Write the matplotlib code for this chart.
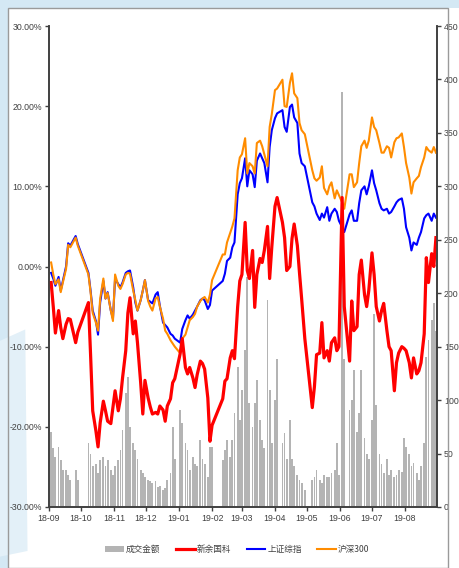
import numpy as np
import pandas as pd
import matplotlib
matplotlib.use("Agg")
from matplotlib import pyplot as plt
import matplotlib.dates as mdates
from matplotlib.patches import Rectangle, Polygon, Patch
from matplotlib.lines import Line2D
from matplotlib.ticker import FuncFormatter, MultipleLocator

# 交易日（每周一、三、五取样，去掉节假日）
holidays = ["2018-09-24", "2018-10-01", "2018-10-03", "2018-10-05", "2018-12-31",
            "2019-02-04", "2019-02-06", "2019-02-08", "2019-04-05", "2019-05-01",
            "2019-05-03", "2019-06-07"]

# 上证综指 累计涨跌幅 %
sse = [
    -0.8, -1.5, -2.4, -1.3, -3.0, -1.8, 0.0, 2.9, 2.6, 3.8, 2.8,                 # 9
    -0.8, -3.0, -5.5, -6.8, -8.5, -4.5, -1.8, -4.0, -3.2, -5.5, -6.5,            # 10
    -1.5, -2.2, -2.6, -2.0, -0.8, -0.6, -0.5, -2.6, -4.5, -5.5, -4.2, -3.0, -1.7,  # 11
    -4.2, -4.4, -4.6, -3.5, -3.2, -4.9, -7.0, -7.3, -7.6, -8.4, -8.6, -9.0,      # 12
    -9.5, -7.8, -6.7, -6.1, -6.5, -6.0, -5.5, -5.0, -4.2, -4.0, -4.2, -5.3, -4.8,  # 1
    -3.0, -1.8, -0.9, 0.7, 1.1, 2.4, 3.0, 9.0, 10.4,                             # 2
    11.0, 13.5, 10.0, 12.0, 11.5, 9.9, 13.2, 14.1, 13.5, 12.9, 10.5, 14.9, 17.0,  # 3
    18.5, 19.1, 19.5, 17.4, 16.8, 19.9, 20.2, 18.6, 17.9, 14.1, 12.9, 12.5,      # 4
    8.0, 7.5, 6.6, 5.8, 6.6, 6.1, 7.4, 5.7, 6.6, 7.2, 6.8, 5.7,                  # 5
    4.9, 4.3, 6.5, 7.0, 5.7, 5.7, 7.9, 9.5, 10.0, 9.0, 10.0,                     # 6
    12.0, 10.4, 9.5, 7.9, 7.2, 7.0, 7.2, 6.6, 6.8, 7.5, 8.0, 8.3, 8.5, 7.2,      # 7
    4.9, 3.6, 2.0, 3.0, 2.7, 3.6, 4.3, 6.0, 6.4, 6.6, 5.7, 6.6, 6.1,             # 8
]

# 沪深300 累计涨跌幅 %
hs300 = [
    0.5, -1.0, -2.2, -1.6, -3.2, -2.0, -0.3, 2.7, 2.4, 3.6, 2.6,
    -1.0, -3.2, -5.8, -7.0, -8.0, -4.0, -1.5, -4.0, -3.3, -5.5, -6.8,
    -1.0, -2.4, -2.8, -2.2, -1.0, -0.8, -0.9, -3.0, -4.2, -5.5, -4.2, -3.0, -1.7,
    -4.3, -5.0, -5.5, -4.0, -3.8, -5.0, -6.5, -8.0, -8.4, -9.2, -9.6, -10.0,
    -10.8, -9.0, -8.5, -7.6, -6.7, -6.3, -5.9, -5.0, -4.3, -4.0, -3.8, -4.5, -3.5,
    -1.7, 1.5, 1.5, 3.0, 4.2, 5.0, 6.0, 12.0, 13.6,
    14.0, 16.0, 11.6, 12.9, 12.5, 11.6, 15.4, 15.7, 15.0, 14.0, 12.5, 17.4, 19.0,
    22.0, 22.2, 23.3, 20.0, 19.9, 22.9, 24.1, 21.6, 21.0, 17.9, 17.0, 16.5,
    12.0, 11.0, 10.7, 11.1, 12.5, 9.8, 9.0, 10.0, 10.5, 8.5, 9.5, 8.9,
    8.0, 7.2, 11.5, 11.5, 9.9, 10.5, 12.9, 15.0, 15.7, 14.8, 15.7,
    18.6, 17.4, 17.0, 15.4, 14.2, 14.2, 15.0, 14.8, 13.6, 15.5, 16.0, 16.1, 16.6, 14.9,
    12.9, 11.1, 9.1, 10.5, 11.0, 11.3, 12.4, 13.6, 14.9, 14.5, 14.2, 14.9, 14.2,
]

# 新余国科 累计涨跌幅 %
xygk = [
    -2.0, -5.0, -8.3, -5.5, -7.6, -9.0, -7.2, -6.5, -6.6, -9.5, -8.2,
    -4.5, -11.0, -18.0, -20.5, -22.5, -19.5, -16.8, -18.0, -19.3, -19.6, -17.6,
    -15.5, -18.0, -16.5, -13.9, -10.5, -5.8, -3.9, -8.4, -6.8, -9.5, -14.5, -18.4, -14.2,
    -16.4, -17.5, -18.4, -18.2, -18.4, -17.4, -17.9, -19.3, -17.4, -16.5, -14.5, -14.0,
    -10.9, -9.0, -12.6, -13.4, -12.6, -13.9, -15.1, -13.5, -11.8, -12.1, -12.8, -16.4, -21.8,
    -19.8, -16.5, -14.3, -14.0, -11.4, -10.5, -11.5, -5.0, -1.8,
    -1.0, 5.5, -0.5, -1.5, 2.0, -5.1, -1.0, 1.0, 0.5, 2.0, 5.0, -1.5, 2.4,
    7.5, 8.6, 5.5, 3.6, -0.5, 0.0, 3.5, 5.3, 2.6, -0.8, -4.0, -9.0,
    -17.6, -15.0, -11.0, -10.8, -7.0, -11.4, -10.5, -11.8, -9.5, -8.9, -10.5, -10.0,
    8.6, -5.0, -11.8, -4.3, -8.0, -7.5, -1.0, 0.8, -3.5, -5.0, -3.0,
    1.7, -1.0, -5.0, -6.8, -5.5, -4.6, -8.0, -10.0, -10.5, -15.5, -12.0, -10.8, -10.0, -10.2,
    -10.5, -12.0, -13.9, -11.4, -13.4, -13.0, -12.0, -8.4, 1.1, -2.0, 1.6, 0.0, 3.6,
]

# 成交金额（右轴）
turnover = [
    70, 55, 47, 56, 44, 35, 35, 30, 25, 35, 25,
    60, 50, 38, 40, 32, 44, 47, 38, 44, 35, 30,
    38, 44, 53, 72, 107, 122, 75, 60, 53, 45, 35, 32, 28,
    25, 24, 22, 24, 19, 20, 16, 18, 25, 32, 75, 45,
    91, 79, 60, 53, 35, 47, 40, 38, 63, 45, 40, 28, 56,
    56, 44, 53, 63, 47, 63, 88, 131, 81,
    109, 147, 215, 97, 75, 97, 119, 81, 63, 55, 194, 109, 60,
    100, 138, 60, 69, 45, 81, 45, 38, 30, 25, 22, 16,
    25, 28, 35, 25, 22, 30, 28, 28, 32, 35, 60, 30,
    388, 138, 91, 100, 128, 70, 88, 128, 65, 50, 45,
    81, 181, 95, 50, 40, 32, 45, 30, 35, 28, 30, 35, 33, 65,
    56, 50, 38, 41, 32, 25, 38, 60, 140, 156, 175, 191, 165,
]

days = pd.date_range("2018-09-01", "2019-08-31", freq="D")
days = days[days.dayofweek.isin([0, 2, 4])]
days = days[~days.isin(pd.to_datetime(holidays))]

cjk = ["Noto Sans CJK SC", "DejaVu Sans"]
num_font = ["Liberation Sans Narrow", "Liberation Sans", "DejaVu Sans"]
plt.rcParams["font.family"] = cjk

W, H = 459, 568
fig = plt.figure(figsize=(W / 100, H / 100), dpi=100)
fig.patch.set_facecolor("white")

# 背景水印 + 外框
fig.patches.append(Rectangle((0, (H - 8) / H), 1, 8 / H, transform=fig.transFigure,
                             facecolor="#d4e8f4", edgecolor="none", zorder=0))
fig.patches.append(Polygon([(0, 0), (8 / W, 0), (8 / W, 1), (0, 1)], closed=True,
                           transform=fig.transFigure, facecolor="#d4e8f4",
                           edgecolor="none", zorder=0))
fig.patches.append(Polygon([(0, 0.02), (0.06, 0.03), (0.055, 0.42), (0, 0.40)],
                           closed=True, transform=fig.transFigure,
                           facecolor="#e3f0f8", edgecolor="none", zorder=0))
fig.patches.append(Rectangle((8 / W, 0), 440 / W, (H - 8) / H, transform=fig.transFigure,
                             facecolor="none", edgecolor="#9a9a9a", linewidth=1.0,
                             zorder=1))

ax = fig.add_axes([49 / W, (H - 507) / H, (437 - 49) / W, (507 - 26) / H])
axb = ax.twinx()
ax.set_zorder(axb.get_zorder() + 1)
ax.patch.set_visible(False)

axb.bar(days, turnover, width=1.7, color="#b4b4b4", linewidth=0, label="成交金额")
ax.plot(days, sse, color="#0000ff", lw=1.5, label="上证综指")
ax.plot(days, hs300, color="#ff8c00", lw=1.5, label="沪深300")
ax.plot(days, xygk, color="#ff0000", lw=2.3, label="新余国科")

ax.set_xlim(pd.Timestamp("2018-09-01"), pd.Timestamp("2019-08-31"))
ax.set_ylim(-30, 30)
axb.set_ylim(0, 450)
ax.yaxis.set_major_locator(MultipleLocator(10))
ax.yaxis.set_major_formatter(FuncFormatter(lambda v, p: f"{v:.2f}%"))
axb.yaxis.set_major_locator(MultipleLocator(50))
ax.xaxis.set_major_locator(mdates.MonthLocator())
ax.xaxis.set_major_formatter(mdates.DateFormatter("%y-%m"))

for a in (ax, axb):
    a.spines["top"].set_visible(False)
    for s in ("left", "right", "bottom"):
        a.spines[s].set_color("#404040")
        a.spines[s].set_linewidth(1.2)
    a.tick_params(length=3, width=1, color="#404040", labelcolor="#404040",
                  labelsize=6.3, pad=2)
for lab in ax.get_xticklabels() + ax.get_yticklabels() + axb.get_yticklabels():
    lab.set_family(num_font)

handles = [Patch(facecolor="#b4b4b4", edgecolor="none"),
           Line2D([], [], color="#ff0000", lw=2.3),
           Line2D([], [], color="#0000ff", lw=1.5),
           Line2D([], [], color="#ff8c00", lw=1.5)]
labels = ["成交金额", "新余国科", "上证综指", "沪深300"]
fig.legend(handles, labels, loc="center", bbox_to_anchor=(0.517, 0.032), ncol=4,
           frameon=False, fontsize=6.2, handlelength=2.2, handletextpad=0.2,
           columnspacing=1.8, labelcolor="#404040")

fig.savefig("out.png", dpi=100)
